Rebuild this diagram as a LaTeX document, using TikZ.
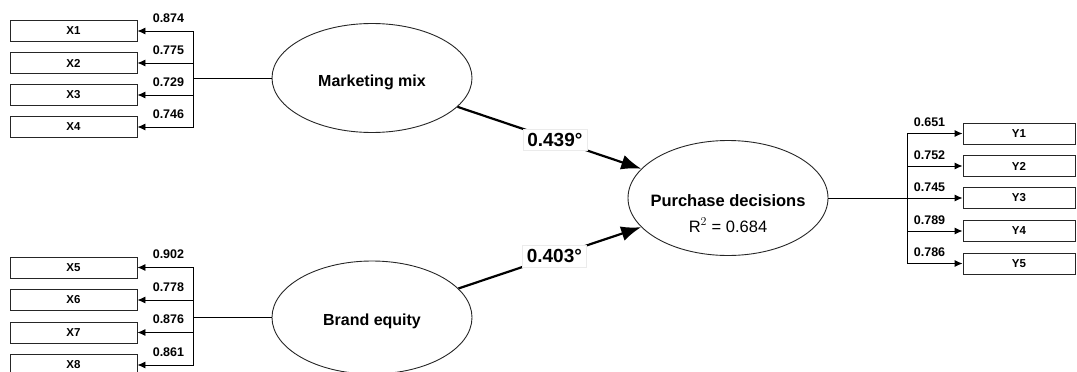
\documentclass[tikz,border=0pt]{standalone}
\usepackage{fontspec}
\setmainfont{Liberation Sans}
\usetikzlibrary{shapes.geometric,arrows.meta}
\begin{document}
\begin{tikzpicture}[x=1pt,y=-1pt,
  ind/.style={draw=black!85, line width=0.9pt, minimum width=127pt, minimum height=21pt, inner sep=0pt, font=\bfseries\fontsize{11.5}{13}\selectfont},
  indy/.style={ind, minimum width=112pt},
  lat/.style={ellipse, draw=black!85, line width=0.9pt, minimum width=200pt, minimum height=110pt, inner sep=0pt},
  lattxt/.style={inner sep=0pt, anchor=base, font=\bfseries\fontsize{16}{19}\selectfont},
  ld/.style={line width=0.9pt, -{Latex[length=8pt,width=7pt]}},
  conn/.style={line width=0.9pt},
  lv/.style={inner sep=0pt, font=\bfseries\fontsize{12.5}{14}\selectfont},
  pth/.style={line width=2.2pt, -{Latex[length=20pt,width=15pt]}},
  coef/.style={fill=white, draw=black!8, line width=0.6pt, inner xsep=4.5pt, inner ysep=4pt, font=\bfseries\fontsize{19}{22}\selectfont}]
\useasboundingbox (0,0) rectangle (1077,372);

% indicator boxes
\node[ind] (x1) at (73.5,31) {X1};
\node[ind] (x2) at (73.5,63) {X2};
\node[ind] (x3) at (73.5,95) {X3};
\node[ind] (x4) at (73.5,127) {X4};
\node[ind] (x5) at (73.5,267.5) {X5};
\node[ind] (x6) at (73.5,300) {X6};
\node[ind] (x7) at (73.5,332.5) {X7};
\node[ind] (x8) at (73.5,365) {X8};

\node[indy] (y1) at (1019,133.5) {Y1};
\node[indy] (y2) at (1019,166) {Y2};
\node[indy] (y3) at (1019,198) {Y3};
\node[indy] (y4) at (1019,231) {Y4};
\node[indy] (y5) at (1019,263.5) {Y5};

% latent variables
\node[lat, minimum height=109pt] (mm) at (372,78) {};
\node[lattxt] (mmt) at (372,86.5) {Marketing mix};
\node[lat, minimum height=113pt] (be) at (372,317.5) {};
\node[lattxt] (bet) at (372,325) {Brand equity};
\node[lat, minimum height=115pt] (pd) at (728,198) {};
\node[lattxt, font=\bfseries\fontsize{16.5}{19}\selectfont] (pdt) at (728,206) {Purchase decisions};
\node[lattxt, font=\fontsize{16.5}{19}\selectfont] (r2) at (728,232) {R$^{2}$ = 0.684};

% Marketing mix loadings
\path (mm.west) ++(-78,0) coordinate (jl);
\draw[conn] (mm.west) -- (jl);
\draw[conn] (jl |- x1.east) -- (jl |- x4.east);
\draw[ld] (jl |- x1.east) -- (x1.east) node[lv, pos=0, anchor=base east, xshift=-9pt, yshift=9pt] (l1) {0.874};
\draw[ld] (jl |- x2.east) -- (x2.east) node[lv, pos=0, anchor=base east, xshift=-9pt, yshift=9pt] (l2) {0.775};
\draw[ld] (jl |- x3.east) -- (x3.east) node[lv, pos=0, anchor=base east, xshift=-9pt, yshift=9pt] (l3) {0.729};
\draw[ld] (jl |- x4.east) -- (x4.east) node[lv, pos=0, anchor=base east, xshift=-9pt, yshift=9pt] (l4) {0.746};

% Brand equity loadings
\path (be.west) ++(-78,0) coordinate (jb);
\draw[conn] (be.west) -- (jb);
\draw[conn] (jb |- x5.east) -- (jb |- x8.east);
\draw[ld] (jb |- x5.east) -- (x5.east) node[lv, pos=0, anchor=base east, xshift=-9pt, yshift=9pt] (l5) {0.902};
\draw[ld] (jb |- x6.east) -- (x6.east) node[lv, pos=0, anchor=base east, xshift=-9pt, yshift=9pt] (l6) {0.778};
\draw[ld] (jb |- x7.east) -- (x7.east) node[lv, pos=0, anchor=base east, xshift=-9pt, yshift=9pt] (l7) {0.876};
\draw[ld] (jb |- x8.east) -- (x8.east) node[lv, pos=0, anchor=base east, xshift=-9pt, yshift=9pt] (l8) {0.861};

% Purchase decisions loadings
\path (pd.east) ++(79,0) coordinate (jr);
\draw[conn] (pd.east) -- (jr);
\draw[conn] (jr |- y1.west) -- (jr |- y5.west);
\draw[ld] (jr |- y1.west) -- (y1.west) node[lv, pos=0, anchor=base west, xshift=6pt, yshift=7pt] (m1) {0.651};
\draw[ld] (jr |- y2.west) -- (y2.west) node[lv, pos=0, anchor=base west, xshift=6pt, yshift=7pt] (m2) {0.752};
\draw[ld] (jr |- y3.west) -- (y3.west) node[lv, pos=0, anchor=base west, xshift=6pt, yshift=7pt] (m3) {0.745};
\draw[ld] (jr |- y4.west) -- (y4.west) node[lv, pos=0, anchor=base west, xshift=6pt, yshift=7pt] (m4) {0.789};
\draw[ld] (jr |- y5.west) -- (y5.west) node[lv, pos=0, anchor=base west, xshift=6pt, yshift=7pt] (m5) {0.786};

% structural paths
\draw[pth] (mm) -- (pd) node[coef, pos=0.53] (c1) {0.439°};
\draw[pth] (be) -- (pd) node[coef, pos=0.525] (c2) {0.403°};
\end{tikzpicture}
\end{document}
